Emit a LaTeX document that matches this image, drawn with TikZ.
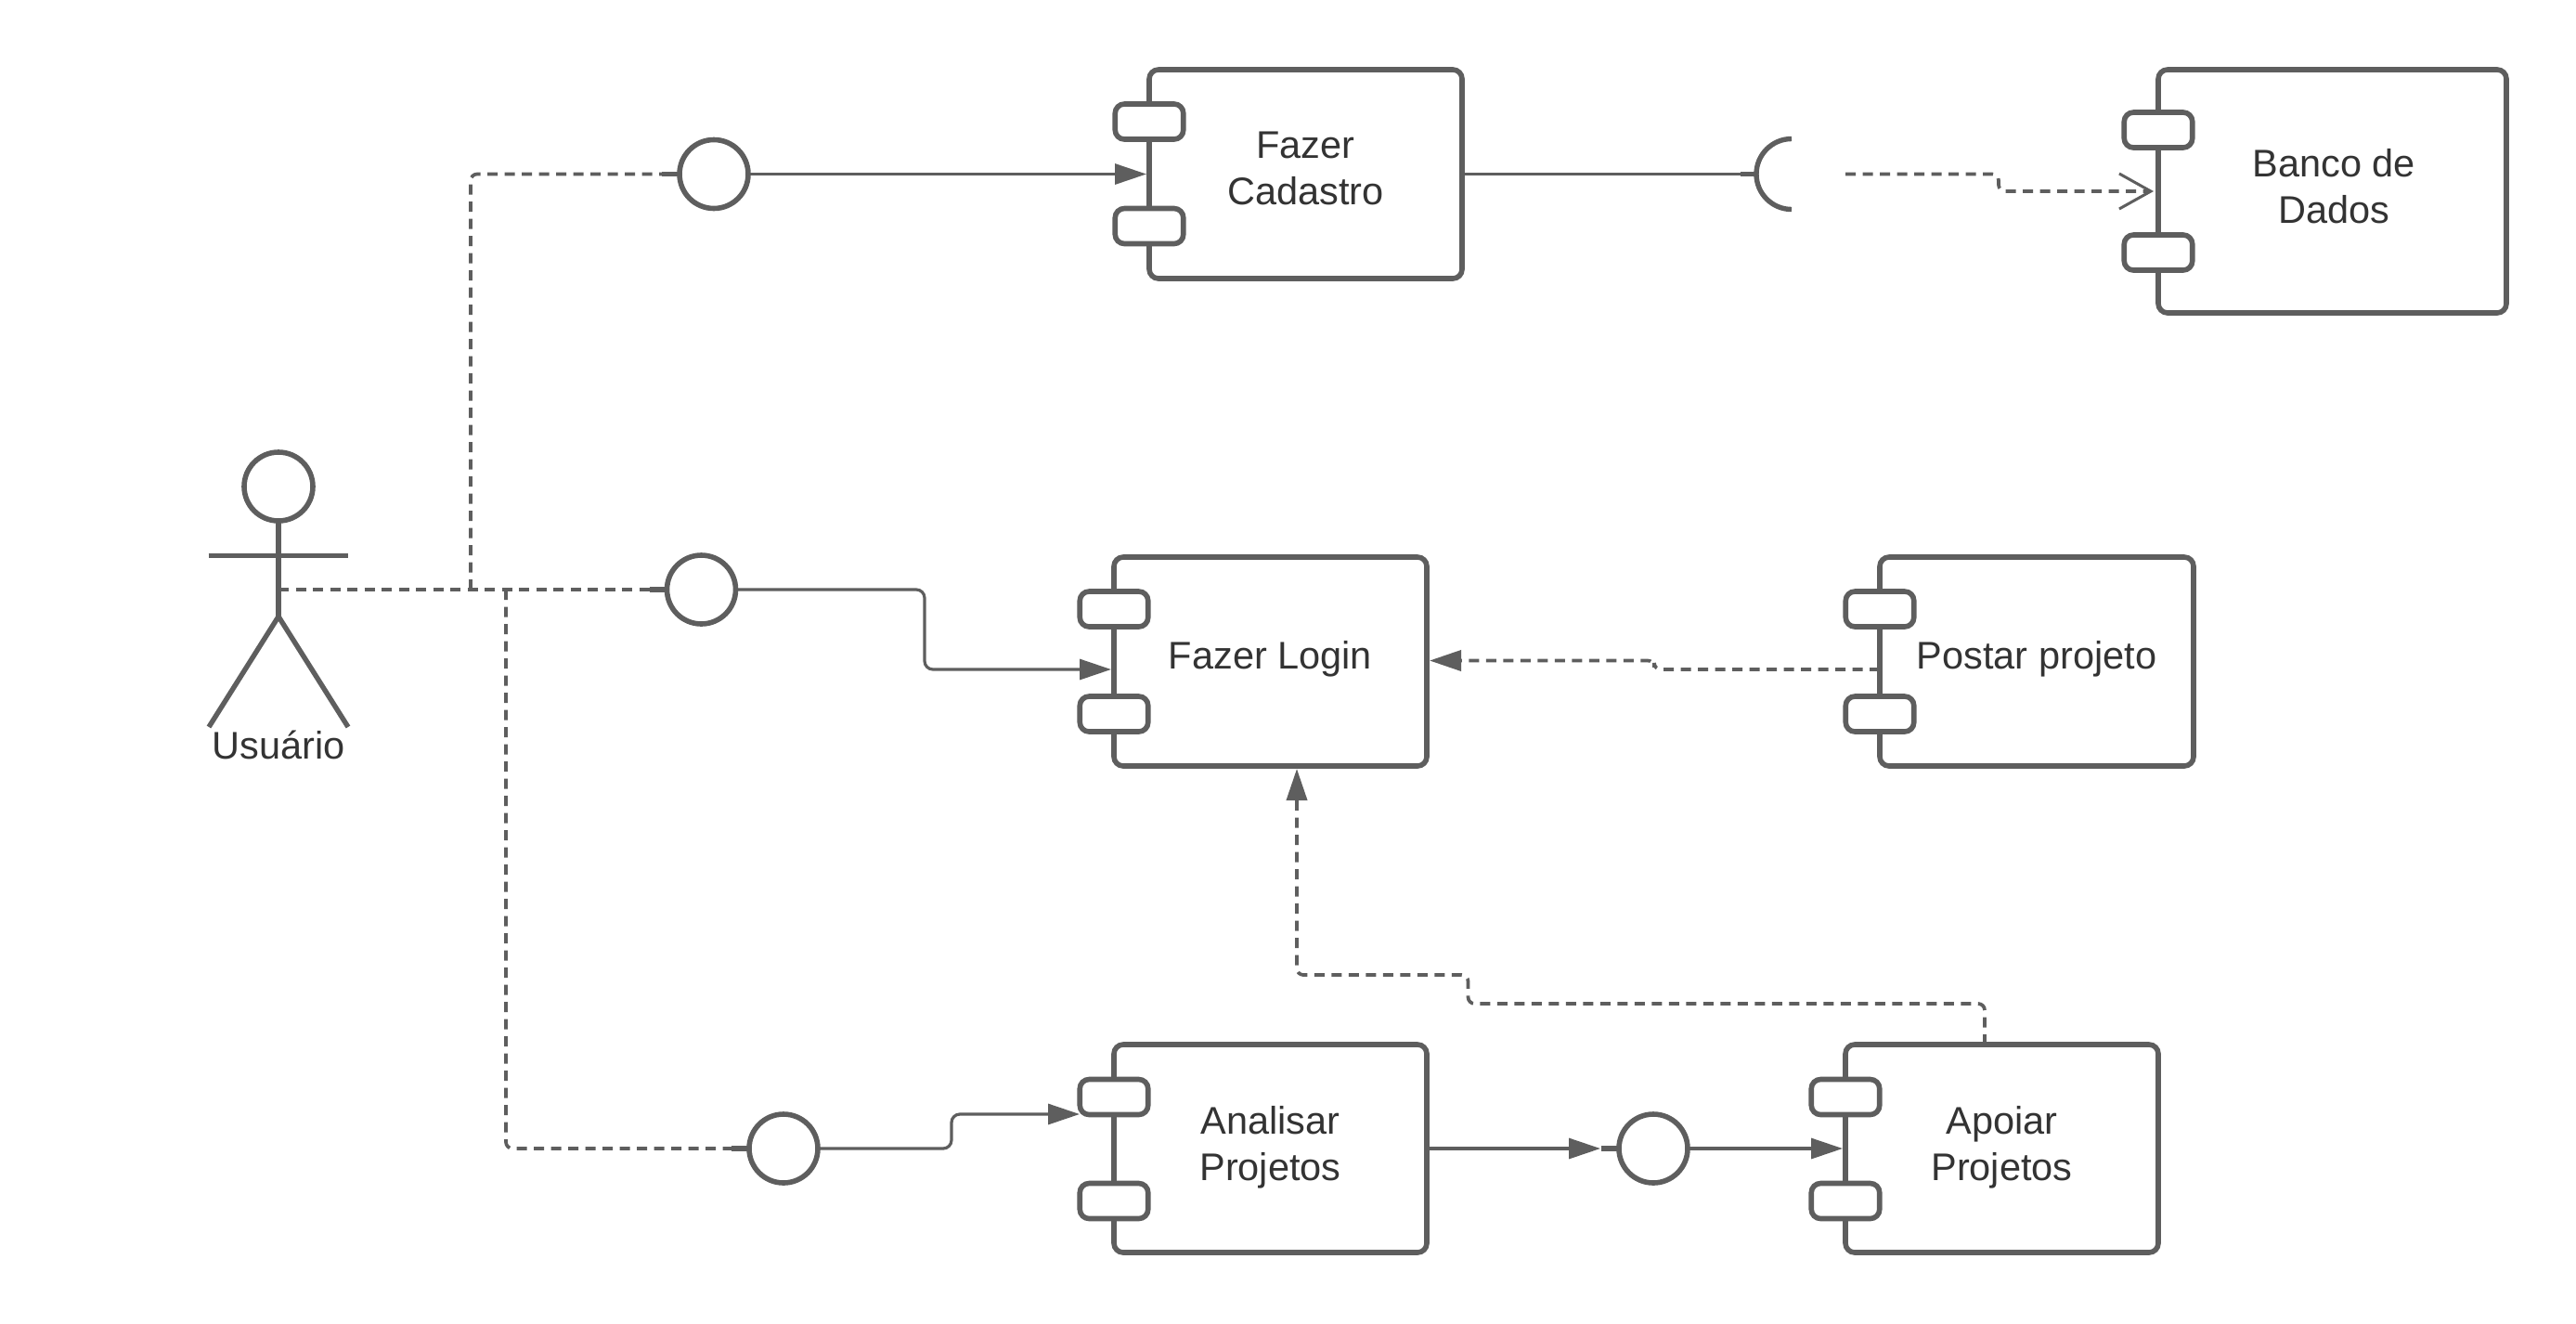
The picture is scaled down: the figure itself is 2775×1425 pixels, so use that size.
\documentclass[tikz,border=0pt]{standalone}
\usepackage{fontspec}
\setmainfont{Liberation Sans}
\usetikzlibrary{arrows.meta}
\definecolor{ink}{HTML}{5E5E5E}
\definecolor{txt}{HTML}{333333}
\newcommand{\st}{\rule[-15pt]{0pt}{45pt}}
\newcommand{\stb}{\rule[-15pt]{0pt}{48pt}}
\tikzset{
  shapeline/.style={draw=ink,line width=5.6pt},
  compbox/.style={shapeline,rectangle,rounded corners=10pt,fill=white,inner sep=0pt,outer sep=0pt,align=center,text=txt,font=\fontsize{41.5pt}{50pt}\selectfont},
  portbox/.style={shapeline,rectangle,rounded corners=10pt,fill=white,inner sep=0pt,outer sep=0pt,minimum width=73.5pt,minimum height=38pt},
  iface/.style={shapeline,circle,fill=white,inner sep=0pt,outer sep=0pt,minimum size=74pt},
  conn/.style={draw=ink,line width=3.2pt},
  dsh/.style={conn,line width=3.7pt,dash pattern=on 11pt off 7.5pt,rounded corners=7pt},
  solidconn/.style={conn,rounded corners=9pt},
  stub/.style={draw=ink,line width=5.4pt},
  tipfill/.style={-{Triangle[length=34pt,width=22pt,fill=ink]},shorten >=3pt},
  tipopen/.style={-{Straight Barb[length=34pt,width=38pt,line width=3pt]},shorten >=5pt},
  lbl/.style={inner sep=0pt,outer sep=0pt,align=center,text=txt,font=\fontsize{41.5pt}{50pt}\selectfont}
}
\newcommand{\comp}[8]{%
  \node[compbox,minimum width={#3pt-#2pt},minimum height={#5pt-#4pt}] (#1) at ({(#2+#3)/2},{(#4+#5)/2}) {#8};
  \node[portbox] (#1-p1) at (#2,#6) {};
  \node[portbox] (#1-p2) at (#2,#7) {};
}
\begin{document}
\begin{tikzpicture}[x=1pt,y=-1pt]
\useasboundingbox (0,0) rectangle (2775,1425);
% components
\comp{cadastro}{1238}{1575}{75}{300}{131}{243.5}{\st Fazer\\\st Cadastro}
\comp{banco}{2325}{2700}{75}{337}{140}{272}{\hspace*{3.5pt}\stb Banco de\\\hspace*{3.5pt}\st Dados}
\comp{login}{1200}{1537}{600}{825}{656}{769}{\st Fazer Login}
\comp{postar}{2025}{2363}{600}{825}{656}{769}{\st Postar projeto}
\comp{analisar}{1200}{1537}{1125}{1349}{1181.5}{1293.5}{\stb Analisar\\\st Projetos}
\comp{apoiar}{1988}{2325}{1125}{1349}{1181.5}{1293.5}{\stb Apoiar\\\st Projetos}
% interfaces
\node[iface] (i1) at (769,187.5) {};
\node[iface] (i2) at (755.5,635) {};
\node[iface] (i3) at (844,1237) {};
\node[iface] (i4) at (1781,1237) {};
% actor
\node[iface] (head) at (300,524) {};
\coordinate (hip) at (300,664);
\coordinate (waist) at (300,635);
\coordinate (armL) at (224.5,598.5);
\coordinate (armR) at (375,598.5);
\coordinate (footL) at (225,783);
\coordinate (footR) at (375,783);
\draw[stub] (head.south) -- (hip);
\draw[stub] (armL) -- (armR);
\draw[stub] (footL) -- (hip) -- (footR);
\node[lbl] (usuario) at (300,809.5) {\st Usuário};
% half moon
\coordinate (moonTop) at (1930,149.5);
\coordinate (moonMid) at (1892.5,187.5);
\draw[stub] (moonTop) arc[start angle=90,end angle=270,radius=38pt];
\draw[conn] (cadastro.east) -- (moonMid);
\draw[stub] ([xshift=-18pt]moonMid) -- (moonMid);
% dashed from actor
\coordinate (up) at (507,635);
\coordinate (down) at (545,635);
\draw[dsh] (waist) -- (i2.west);
\draw[dsh] (up) -- (507,187.5) -- (i1.west);
\draw[dsh] (down) -- (545,1237) -- (i3.west);
\draw[stub] ([xshift=-19pt]i1.west) -- (i1.west);
\draw[stub] ([xshift=-19pt]i2.west) -- (i2.west);
\draw[stub] ([xshift=-19pt]i3.west) -- (i3.west);
% interface connectors
\draw[solidconn,tipfill] (i1.east) -- (cadastro.west);
\coordinate (loginIn) at (1200,721);
\draw[solidconn,tipfill] (i2.east) -- (996,635) -- (996,721) -- (loginIn);
\coordinate (analisarIn) at (1166,1200);
\draw[solidconn,tipfill] (i3.east) -- (1025,1237) -- (1025,1200) -- (analisarIn);
\draw[conn,tipfill,shorten >=20pt] (analisar.east) -- (i4.west);
\draw[stub] ([xshift=-19pt]i4.west) -- (i4.west);
\draw[conn,tipfill] (i4.east) -- (apoiar.west);
% dependencies
\coordinate (moonOut) at (1988,187.5);
\coordinate (bancoIn) at (2325,206);
\draw[dsh,tipopen] (moonOut) -- (2153,187.5) -- (2153,206) -- (bancoIn);
\coordinate (postarOut) at (2025,721);
\coordinate (loginE) at (1537,711.5);
\draw[dsh,tipfill] (postarOut) -- (1782,721) -- (1782,711.5) -- (loginE);
\coordinate (apoiarOut) at (2138,1125);
\coordinate (loginS) at (1397,825);
\draw[dsh,tipfill] (apoiarOut) -- (2138,1081) -- (1581.5,1081) -- (1581.5,1050) -- (1397,1050) -- (loginS);
\end{tikzpicture}
\end{document}
